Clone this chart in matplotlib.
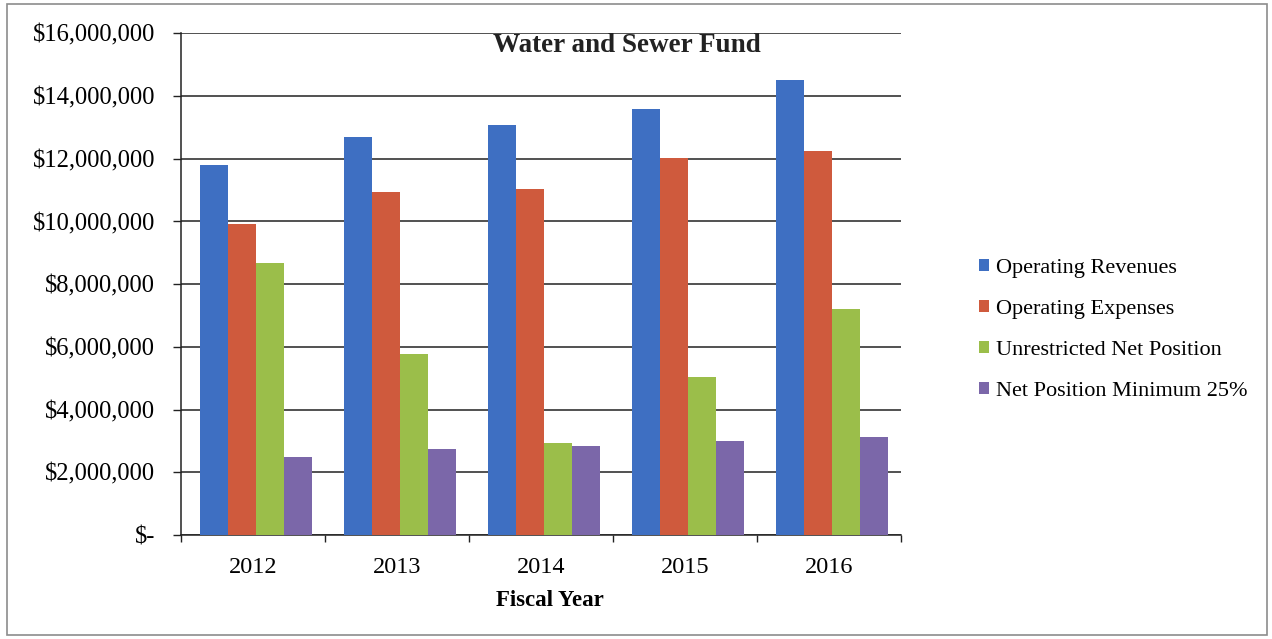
import matplotlib
matplotlib.use("Agg")
import matplotlib.pyplot as plt
import numpy as np
from matplotlib.patches import Rectangle, Patch
from matplotlib.ticker import FuncFormatter, MultipleLocator, FixedLocator

years = ["2012", "2013", "2014", "2015", "2016"]
operating_revenues = [11_800_000, 12_680_000, 13_070_000, 13_570_000, 14_510_000]
operating_expenses = [9_920_000, 10_930_000, 11_030_000, 12_010_000, 12_240_000]
unrestricted_net_position = [8_660_000, 5_770_000, 2_940_000, 5_030_000, 7_210_000]
net_position_minimum = [2_480_000, 2_740_000, 2_840_000, 3_000_000, 3_130_000]

series_names = ["Operating Revenues", "Operating Expenses",
                "Unrestricted Net Position", "Net Position Minimum 25%"]
series_values = [operating_revenues, operating_expenses,
                 unrestricted_net_position, net_position_minimum]
colors = ["#3E6FC2", "#CF5A3D", "#9BBE4A", "#7B67A9"]

plt.rcParams["font.family"] = ["Liberation Serif", "DejaVu Serif"]

W, H = 1272, 639
fig = plt.figure(figsize=(W / 100, H / 100), dpi=100)
fig.patch.set_facecolor("white")

ax = fig.add_axes([181 / W, 1 - 535 / H, (901 - 181) / W, (535 - 33.3) / H])

x = np.arange(len(years))
bw = 0.195
for k, (vals, c) in enumerate(zip(series_values, colors)):
    ax.bar(x + (k - 1.5) * bw + 0.02, vals, width=bw, color=c, zorder=3)

ax.set_xlim(-0.5, len(years) - 0.5)
ax.set_ylim(0, 16_000_000)
ax.yaxis.set_major_locator(MultipleLocator(2_000_000))
ax.yaxis.set_major_formatter(FuncFormatter(lambda v, p: "$-" if v == 0 else f"${v:,.0f}"))
ax.grid(axis="y", color="#222222", linewidth=1.1, zorder=1)
ax.set_axisbelow(True)

ax.set_xticks(x)
ax.set_xticklabels(years)
ax.xaxis.set_minor_locator(FixedLocator(np.arange(-0.5, len(years), 1.0)))
ax.tick_params(axis="x", which="major", length=0, pad=16, labelsize=17.5)
ax.tick_params(axis="x", which="minor", length=5, width=1, color="#222222")
ax.tick_params(axis="y", length=6, width=1, color="#222222", labelsize=17.7, pad=12.5)

for side in ["top", "right"]:
    ax.spines[side].set_visible(False)
ax.spines["left"].set_color("#222222")
ax.spines["bottom"].set_color("#222222")
ax.spines["left"].set_linewidth(1.1)
ax.spines["bottom"].set_linewidth(1.1)

ax.set_xlabel("Fiscal Year", fontsize=16.5, fontweight="bold")
ax.xaxis.set_label_coords((550 - 181) / 720, -(601 - 535) / (535 - 33.3), transform=ax.transAxes)
ax.xaxis.label.set_va("center")

fig.text(627 / W, 1 - 45 / H, "Water and Sewer Fund", ha="center", va="center",
         fontsize=19.5, fontweight="bold", color="#222222")

handles = [Patch(facecolor=c, edgecolor="none") for c in colors]
fig.legend(handles, series_names, loc="center left", bbox_to_anchor=(970 / W, 1 - 330 / H),
           frameon=False, fontsize=16, handlelength=0.45, handleheight=0.45,
           handletextpad=0.3, labelspacing=0.98, borderaxespad=0)

fig.add_artist(Rectangle((7 / W, 4 / H), 1260 / W, 631 / H, transform=fig.transFigure,
                         fill=False, edgecolor="#8c8c8c", linewidth=1.2))

fig.savefig("out.png", dpi=100, facecolor="white")
